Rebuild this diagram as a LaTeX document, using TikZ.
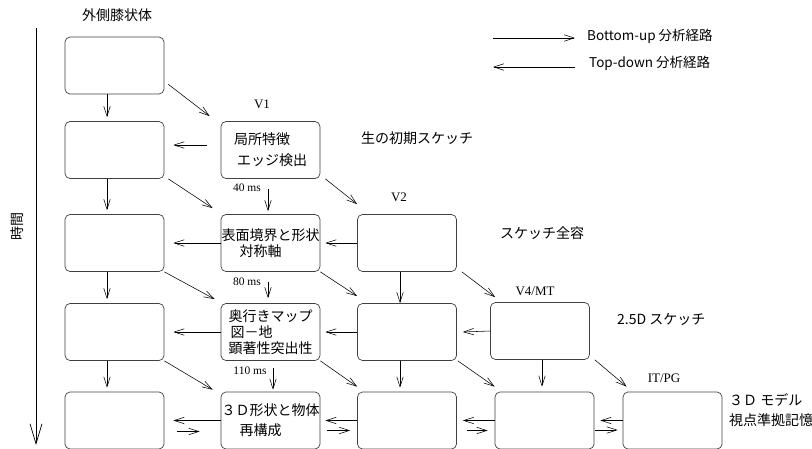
\documentclass[tikz,border=0pt]{standalone}
\usepackage{fontspec}
\setmainfont{Liberation Serif}
\newfontfamily\jp{Noto Sans CJK JP}
\usetikzlibrary{arrows.meta}
\begin{document}
\begin{tikzpicture}[x=1pt,y=-1pt,
  box/.style={draw=black!75, line width=0.7pt, rounded corners=5pt,
    minimum width=99pt, minimum height=57pt, inner sep=0pt, align=left,
    font=\jp\fontsize{14}{16}\selectfont},
  arr/.style={-{Straight Barb[length=10pt,width=6.5pt]}, line width=0.55pt},
  jlab/.style={font=\jp\fontsize{14}{16}\selectfont, inner sep=0pt, align=left},
  leg/.style={font=\jp\fontsize{13.5}{15}\selectfont, inner sep=0pt, anchor=west},
  slab/.style={font=\fontsize{13}{15}\selectfont, inner sep=0pt},
  mslab/.style={font=\fontsize{11.5}{13}\selectfont, inner sep=0pt}]
\useasboundingbox (0,0) rectangle (812,448);

% boxes
\node[box] (a1) at (114.5,65.5) {};
\node[box] (a2) at (114.5,150) {};
\node[box] (a3) at (114.5,243) {};
\node[box] (a4) at (114.5,332) {};
\node[box] (a5) at (114.5,420.5) {};
\node[box] (b2) at (270.5,150) {局所特徴\\[5pt]\hspace{3pt}エッジ検出};
\node[box] (b3) at (270.5,243) {表面境界と形状\\\hspace{18pt}対称軸};
\node[box] (b4) at (270.5,332) {奥行きマップ\\\hspace{2pt}図－地\\顕著性突出性};
\node[box] (b5) at (270.5,420.5) {３Ｄ形状と物体\\[4pt]\hspace{18pt}再構成};
\node[box] (c3) at (407,243) {};
\node[box] (c4) at (407,332) {};
\node[box] (c5) at (407,420.5) {};
\node[box] (d4) at (540,331) {};
\node[box] (d5) at (544.5,420.5) {};
\node[box] (e5) at (672.5,420.5) {};

% labels
\node[jlab] (lgn) at (117,15) {外側膝状体};
\node[slab] (lv1) at (262,104) {V1};
\node[jlab] (lraw) at (417,138) {生の初期スケッチ};
\node[slab] (lv2) at (399,197) {V2};
\node[jlab] (lfull) at (542,233) {スケッチ全容};
\node[slab] (lv4) at (535,291) {V4/MT};
\node[jlab, anchor=west] (l25) at (617,319) {2.5D スケッチ};
\node[slab] (lit) at (664,378) {IT/PG};
\node[jlab, anchor=west] (l3d) at (729,410) {３Ｄ モデル\\[4pt]視点準拠記憶};
\node[jlab, rotate=90] (ltime) at (17,226) {時間};
\node[mslab] (m40) at (247,188) {40 ms};
\node[mslab] (m80) at (247,282) {80 ms};
\node[mslab] (m110) at (250,371) {110 ms};

% legend
\node[leg] (lg1) at (587,36) {Bottom-up 分析経路};
\node[leg] (lg2) at (589,63) {Top-down 分析経路};
\coordinate (l1a) at (493,38);
\coordinate (l1b) at (575,38);
\coordinate (l2a) at (575,67);
\coordinate (l2b) at (493,67);
\draw[arr] (l1a) -- (l1b);
\draw[arr] (l2a) -- (l2b);

% time axis
\coordinate (t0) at (36,28);
\coordinate (t1) at (36,445);
\draw[line width=0.7pt, -{Straight Barb[length=20pt,width=12pt]}] (t0) -- (t1);

% column 1 verticals
\draw[arr] ([xshift=-7.5]a1.south) -- ([shift={(-7.5,-4)}]a2.north);
\draw[arr] ([xshift=-7.5]a2.south) -- ([shift={(-7.5,-4)}]a3.north);
\draw[arr] ([xshift=-7.5]a3.south) -- ([shift={(-7.5,-4)}]a4.north);
\draw[arr] ([xshift=-7.5]a4.south) -- ([shift={(-7.5,-4)}]a5.north);

% column 1 -> column 2 diagonals
\draw[arr] ([shift={(4,-10)}]a1.south east) -- ([shift={(-11,-5)}]b2.north west);
\draw[arr] ([shift={(4,0)}]a2.south east) -- ([shift={(-8,-6)}]b3.north west);
\draw[arr] (a3.south east) -- ([shift={(-6,-4)}]b4.north west);
\draw[arr] (a4.south east) -- ([shift={(-8,-2)}]b5.north west);

% column 2 -> column 1 (top-down)
\draw[arr] ([shift={(-14,-5)}]b2.west) -- ([shift={(9,-5)}]a2.east);
\draw[arr] (b3.west) -- ([xshift=9]a3.east);
\draw[arr] (b4.west) -- ([xshift=9]a4.east);
\draw[arr] (b5.west) -- ([xshift=9]a5.east);
\draw[arr] ([shift={(13,11)}]a5.east) -- ([shift={(-21,11)}]b5.west);

% column 2 timing arrows
\draw[arr] ([shift={(-2.5,-25)}]b3.north) -- ([shift={(-2.5,-3)}]b3.north);
\draw[arr] ([shift={(-2.5,-21)}]b4.north) -- ([shift={(-2.5,-5)}]b4.north);
\draw[arr] ([shift={(2.5,-24)}]b5.north) -- ([shift={(2.5,-2)}]b5.north);

% column 2 -> column 3 diagonals
\draw[arr] ([shift={(5,0)}]b2.south east) -- ([shift={(0,-10)}]c3.north west);
\draw[arr] (b3.south east) -- ([shift={(0,-7)}]c4.north west);
\draw[arr] (b4.south east) -- ([shift={(0,-5)}]c5.north west);

% column 3 -> column 2
\draw[arr] (c3.west) -- ([xshift=5]b3.east);
\draw[arr] (c4.west) -- ([xshift=5]b4.east);
\draw[arr] (c5.west) -- ([xshift=5]b5.east);
\draw[arr] ([shift={(7,10)}]b5.east) -- ([shift={(-7,10)}]c5.west);

% column 3 verticals
\draw[arr] ([xshift=-7]c3.south) -- ([xshift=-7]c4.north);
\draw[arr] ([xshift=-7]c4.south) -- ([shift={(-7,-4)}]c5.north);

% column 3 -> column 4 diagonals
\draw[arr] ([shift={(5,0)}]c3.south east) -- ([shift={(5,-5)}]d4.north west);
\draw[arr] ([shift={(1,0)}]c4.south east) -- ([shift={(0,-5)}]d5.north west);

% column 4 -> column 3
\draw[arr] (d4.west) -- ([xshift=6]c4.east);
\draw[arr] (d5.west) -- ([xshift=6]c5.east);
\draw[arr] ([shift={(10,10)}]c5.east) -- ([shift={(-7,10)}]d5.west);

% column 4 vertical and diagonal
\draw[arr] ([xshift=2]d4.south) -- ([shift={(-2.5,-5)}]d5.north);
\draw[arr] ([shift={(5,0)}]d4.south east) -- ([shift={(4,-5)}]e5.north west);

% column 5 -> column 4
\draw[arr] (e5.west) -- ([xshift=6]d5.east);
\draw[arr] ([shift={(1,9.5)}]d5.east) -- ([shift={(-5,9.5)}]e5.west);
\end{tikzpicture}
\end{document}
